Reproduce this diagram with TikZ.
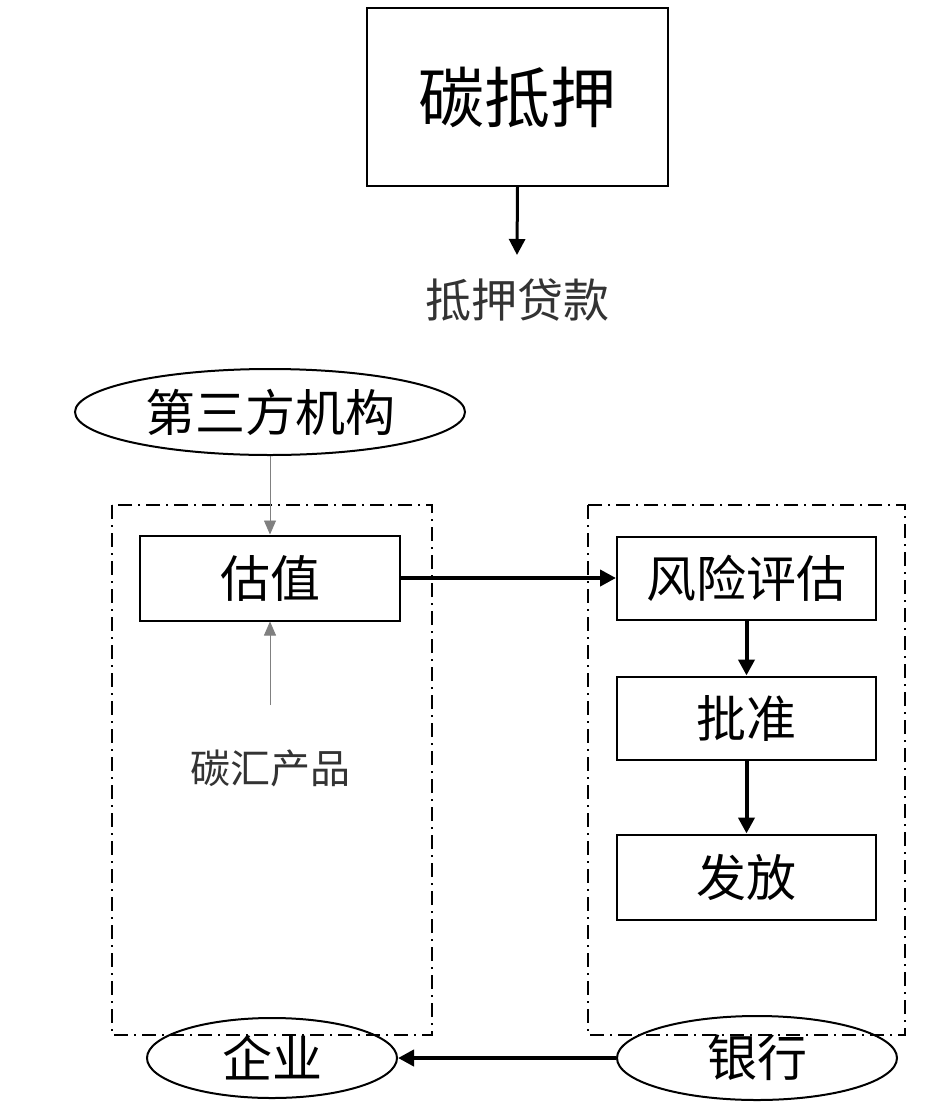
\documentclass[tikz,border=0pt]{standalone}
\usepackage{fontspec}
\newfontfamily\cjk{Noto Sans CJK SC}
\usetikzlibrary{shapes.geometric,arrows.meta}
\begin{document}
\begin{tikzpicture}[x=1pt,y=-1pt,
  box/.style={draw,line width=2pt,minimum width=#1,inner sep=0pt,font=\cjk\fontsize{50}{54}\selectfont},
  ell/.style={draw,ellipse,line width=2pt,inner sep=0pt,font=\cjk\fontsize{50}{54}\selectfont},
  grp/.style={draw,line width=1.8pt,dash pattern=on 14pt off 6pt on 2pt off 6pt},
  arr/.style={-{Triangle[length=16pt,width=16pt]},line width=4pt},
  thin/.style={-{Triangle[length=14pt,width=12pt]},line width=0.8pt,gray},
  lbl/.style={font=\cjk\fontsize{40}{44}\selectfont,text=black!80}]
\useasboundingbox (0,0) rectangle (946,1120);
\fill[white] (0,0) rectangle (946,1120);
\node[box=301pt,minimum height=178pt,font=\cjk\fontsize{66}{70}\selectfont] (top) at (517.5,97) {碳抵押};
\node[lbl,font=\cjk\fontsize{46}{50}\selectfont] (dk) at (517,300) {抵押贷款};
\draw[arr,line width=3pt] (top.south) -- (517,255);
\node[ell,minimum width=390pt,minimum height=86pt] (third) at (270,412) {第三方机构};
\draw[grp] (112,505) rectangle (432,1035);
\draw[grp] (588,505) rectangle (905,1035);
\node[box=260pt,minimum height=85pt] (gz) at (270,578) {估值};
\coordinate (tp) at (270,705);
\node[lbl] (th) at (270,768) {碳汇产品};
\draw[thin] (third.south) -- (gz.north);
\draw[thin] (tp) -- (gz.south);
\node[box=259pt,minimum height=83pt] (fx) at (746.5,578) {风险评估};
\node[box=259pt,minimum height=83pt] (pz) at (746.5,718) {批准};
\node[box=259pt,minimum height=85pt] (ff) at (746.5,877) {发放};
\draw[arr] (gz.east) -- (fx.west);
\draw[arr] (fx.south) -- (pz.north);
\draw[arr] (pz.south) -- (ff.north);
\node[ell,minimum width=250pt,minimum height=80pt] (qy) at (272,1058) {企业};
\node[ell,minimum width=280pt,minimum height=84pt] (yh) at (757,1058) {银行};
\draw[arr] (yh.west) -- (qy.east);
\end{tikzpicture}
\end{document}
